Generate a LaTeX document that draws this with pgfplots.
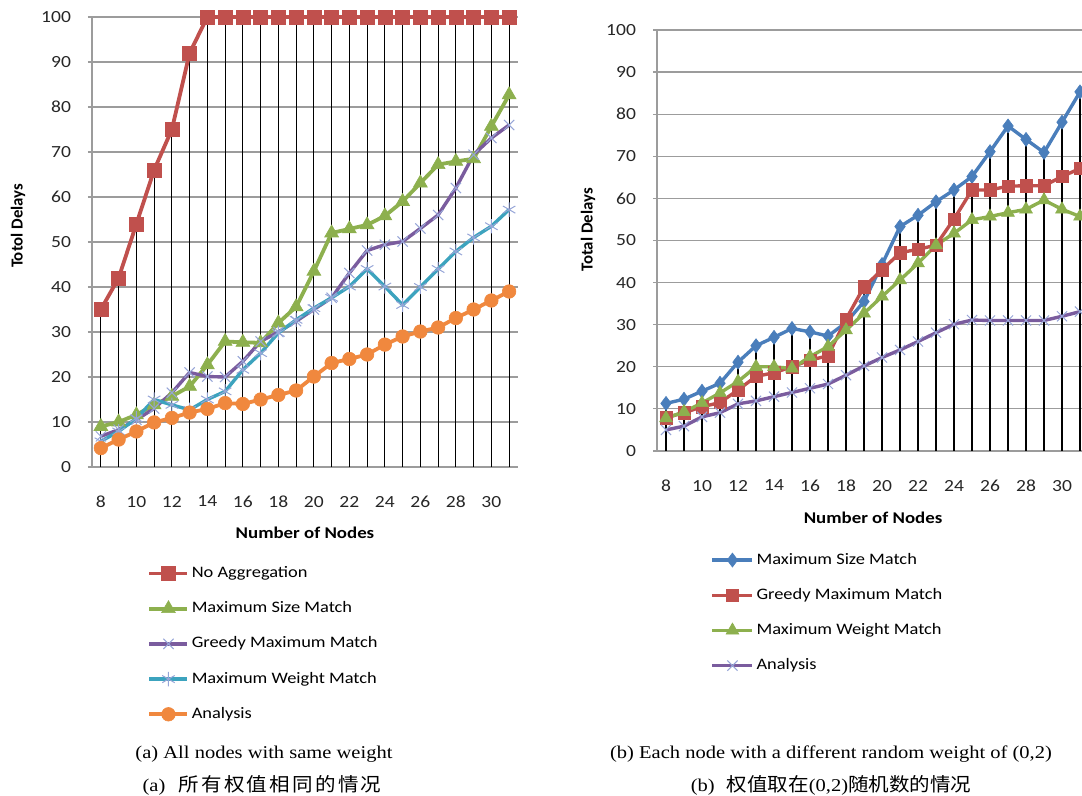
\documentclass[border=0pt]{standalone}
\usepackage{fontspec}
\setmainfont{Carlito}[FakeStretch=1.15]
\newfontfamily\ylabfont{Carlito}
\newfontfamily\capfont{Liberation Serif}[FakeStretch=1.14]
\newfontfamily\cjk{Noto Sans CJK SC}[FakeStretch=1.08]
\newfontfamily\cjkwide{Noto Sans CJK SC}[FakeStretch=1.08, LetterSpace=12]
\usepackage{pgfplots}
\pgfplotsset{compat=1.18}
\definecolor{cRed}{HTML}{C0504D}
\definecolor{cGreen}{HTML}{8DB04E}
\definecolor{cPurple}{HTML}{7A5C9E}
\definecolor{cTeal}{HTML}{3CA3BE}
\definecolor{cOrange}{HTML}{F0883E}
\definecolor{cBlue}{HTML}{4A7EBB}
\definecolor{gridc}{HTML}{9C9C9C}
\definecolor{cXmark}{RGB}{150,165,215}
\pgfplotsset{
 excel/.style={
  scale only axis,
  xmin=7.5, ymin=0, ymax=100,
  xtick={8,10,...,30},
  ytick={0,10,...,100},
  axis x line*=bottom, axis y line*=left,
  axis line style={draw=gridc, line width=0.6pt, -},
  ymajorgrids, major grid style={draw=gridc, line width=0.6pt},
  major tick length=2pt,
  tick align=outside,
  xtick style={draw=none},
  ytick style={draw=gridc, line width=0.6pt},
  every tick label/.append style={font=\fontsize{8.5}{10}\selectfont, text=black!85},
  xticklabel style={yshift=-9pt},
  yticklabel style={xshift=-5pt},
  /pgf/number format/assume math mode=true,
  xlabel style={font=\fontsize{8.2}{10}\selectfont\bfseries, anchor=center},
  ylabel style={font=\ylabfont\fontsize{8.4}{10}\selectfont\bfseries, anchor=center},
  clip=false,
  legend cell align=left,
  legend style={draw=none, fill=none, inner sep=0pt, column sep=1.2pt, row sep=9.6pt,
    font=\fontsize{8}{9.6}\selectfont,
    nodes={inner sep=0pt, text height=6pt, text depth=2pt}},
 }
}
\begin{document}
\begin{tikzpicture}
\useasboundingbox (0,0) rectangle (541pt,398pt);
% ---------------- left chart ----------------
\begin{axis}[excel,
  at={(46pt,164.5pt)}, anchor=south west,
  width=213pt, height=225pt, xmax=31.5,
  xlabel={Number of Nodes}, ylabel={Totol Delays},
  xlabel style={at={(axis description cs:0.5,-0.1467)}},
  ylabel style={at={(axis description cs:-0.1737,0.536)}},
  legend style={at={(axis description cs:0.1295,-0.218)}, anchor=north west},
  legend image code/.code={\draw[mark repeat=2,mark phase=2,#1] plot coordinates {(0pt,0pt) (9.5pt,0pt) (19pt,0pt)};},
]
\addplot[ycomb, black, line width=0.55pt, forget plot, mark=none] coordinates {
(8,35)(9,42)(10,54)(11,66)(12,75)(13,92)(14,100)(15,100)(16,100)(17,100)(18,100)(19,100)(20,100)(21,100)(22,100)(23,100)(24,100)(25,100)(26,100)(27,100)(28,100)(29,100)(30,100)(31,100)};
\addplot[cRed, line width=1.9pt, mark=square*, mark size=3.5pt, mark options={line width=0.3pt, fill=cRed}] coordinates {
(8,35)(9,42)(10,54)(11,66)(12,75)(13,92)(14,100)(15,100)(16,100)(17,100)(18,100)(19,100)(20,100)(21,100)(22,100)(23,100)(24,100)(25,100)(26,100)(27,100)(28,100)(29,100)(30,100)(31,100)};
\addlegendentry{No Aggregation}
\addplot[cGreen, line width=1.9pt, mark=triangle*, mark size=4pt, mark options={line width=0.3pt, fill=cGreen}] coordinates {
(8,9)(9,10)(10,11.6)(11,13.8)(12,15.7)(13,17.9)(14,22.7)(15,27.9)(16,27.7)(17,27.6)(18,32)(19,35.6)(20,43.5)(21,52)(22,52.9)(23,53.8)(24,55.8)(25,59)(26,63.1)(27,67.2)(28,67.9)(29,68.5)(30,75.7)(31,82.7)};
\addlegendentry{Maximum Size Match}
\addplot[cPurple, line width=1.7pt, mark=x, mark size=3.6pt, mark options={line width=0.5pt, draw=cXmark}] coordinates {
(8,6.8)(9,8.3)(10,10.5)(11,13)(12,16.5)(13,21)(14,20.1)(15,20)(16,23.5)(17,27.9)(18,30)(19,32.4)(20,35)(21,37.6)(22,43.1)(23,48.1)(24,49.4)(25,50.1)(26,53)(27,56)(28,62)(29,69.4)(30,73.1)(31,76)};
\addlegendentry{Greedy Maximum Match}
\addplot[cTeal, line width=1.7pt, mark=asterisk, mark size=3.6pt, mark options={line width=0.5pt, draw=cXmark}] coordinates {
(8,5.7)(9,7.9)(10,10.8)(11,15)(12,13.8)(13,12.7)(14,15)(15,16.8)(16,21.6)(17,25.3)(18,29.8)(19,32.7)(20,35.3)(21,37.6)(22,40.1)(23,44)(24,40.1)(25,36)(26,40)(27,44)(28,47.9)(29,51)(30,53.5)(31,57.2)};
\addlegendentry{Maximum Weight Match}
\addplot[cOrange, line width=1.9pt, mark=*, mark size=3.4pt, mark options={line width=0.3pt, fill=cOrange}] coordinates {
(8,4.2)(9,6.1)(10,7.9)(11,9.9)(12,10.9)(13,12.1)(14,12.9)(15,14.2)(16,14)(17,15)(18,16)(19,17)(20,20.1)(21,23.1)(22,24)(23,25)(24,27.2)(25,29)(26,30.1)(27,31)(28,33.1)(29,35)(30,37)(31,39)};
\addlegendentry{Analysis}
\end{axis}
% ---------------- right chart ----------------
\begin{axis}[excel,
  at={(328.5pt,172.5pt)}, anchor=south west,
  width=212.5pt, height=210.5pt, xmax=31.11,
  xlabel={Number of Nodes}, ylabel={Total Delays},
  xlabel style={at={(axis description cs:0.5083,-0.159)}},
  ylabel style={at={(axis description cs:-0.162,0.525)}},
  legend style={at={(axis description cs:0.1255,-0.239)}, anchor=north west},
  legend image code/.code={\draw[mark repeat=2,mark phase=2,#1] plot coordinates {(0pt,0pt) (10pt,0pt) (20pt,0pt)};},
]
\addplot[ycomb, black, line width=0.55pt, forget plot, mark=none] coordinates {
(8,11)(9,12)(10,14)(11,16)(12,21)(13,25)(14,27)(15,29)(16,28)(17,27)(18,31)(19,39)(20,44)(21,53)(22,56)(23,59)(24,62)(25,65)(26,71)(27,77)(28,74)(29,71)(30,78)(31,85)};
\addplot[cBlue, line width=1.7pt, mark=diamond*, mark size=3.5pt, mark options={line width=0.3pt, fill=cBlue}] coordinates {
(8,11.3)(9,12.3)(10,14.2)(11,16.1)(12,21.1)(13,25)(14,27)(15,29.1)(16,28.3)(17,27.3)(18,30.5)(19,35.5)(20,44.3)(21,53.3)(22,56)(23,59.2)(24,62)(25,65.2)(26,71.1)(27,77.2)(28,74)(29,70.9)(30,78.1)(31,85.3)};
\addlegendentry{Maximum Size Match}
\addplot[cRed, line width=1.7pt, mark=square*, mark size=3.1pt, mark options={line width=0.3pt, fill=cRed}] coordinates {
(8,7.9)(9,9.1)(10,10.5)(11,11.5)(12,14.5)(13,17.7)(14,18.6)(15,20)(16,21.6)(17,22.6)(18,31.3)(19,39)(20,43)(21,47.1)(22,47.9)(23,48.9)(24,55.1)(25,62)(26,62)(27,62.9)(28,63)(29,63)(30,65.2)(31,67.1)};
\addlegendentry{Greedy Maximum Match}
\addplot[cGreen, line width=1.7pt, mark=triangle*, mark size=3.7pt, mark options={line width=0.3pt, fill=cGreen}] coordinates {
(8,7.8)(9,9.3)(10,11.4)(11,13.8)(12,16.5)(13,20)(14,20)(15,19.6)(16,22.4)(17,24.8)(18,28.7)(19,32.7)(20,36.7)(21,40.6)(22,44.6)(23,48.9)(24,51.7)(25,54.9)(26,55.7)(27,56.6)(28,57.4)(29,59.6)(30,57.4)(31,55.7)};
\addlegendentry{Maximum Weight Match}
\addplot[cPurple, line width=1.7pt, mark=x, mark size=3.6pt, mark options={line width=0.5pt, draw=cXmark}] coordinates {
(8,5)(9,5.9)(10,8.1)(11,9.1)(12,11.2)(13,11.9)(14,12.9)(15,13.9)(16,14.9)(17,15.9)(18,18)(19,20.2)(20,22.2)(21,24)(22,26)(23,28.1)(24,30.1)(25,31.1)(26,31)(27,31)(28,31)(29,31)(30,32)(31,33.1)};
\addlegendentry{Analysis}
\end{axis}
% ---------------- captions ----------------
\node[anchor=base, inner sep=0pt, font=\capfont\fontsize{9}{11}\selectfont] at (132pt,18.5pt) {(a) All nodes with same weight};
\node[anchor=base, inner sep=0pt] at (131pt,2pt) {\capfont\fontsize{9}{11}\selectfont (a)\hspace{6.5pt}\cjkwide\fontsize{9.5}{11}\selectfont 所有权值相同的情况};
\node[anchor=base, inner sep=0pt, font=\capfont\fontsize{9}{11}\selectfont] at (415.5pt,18.5pt) {(b) Each node with a different random weight of (0,2)};
\node[anchor=base, inner sep=0pt] at (415.5pt,2pt) {\capfont\fontsize{9}{11}\selectfont (b)\hspace{6pt}{\cjk\fontsize{9.5}{11}\selectfont 权值取在}(0,2){\cjk\fontsize{9.5}{11}\selectfont 随机数的情况}};
\end{tikzpicture}
\end{document}
